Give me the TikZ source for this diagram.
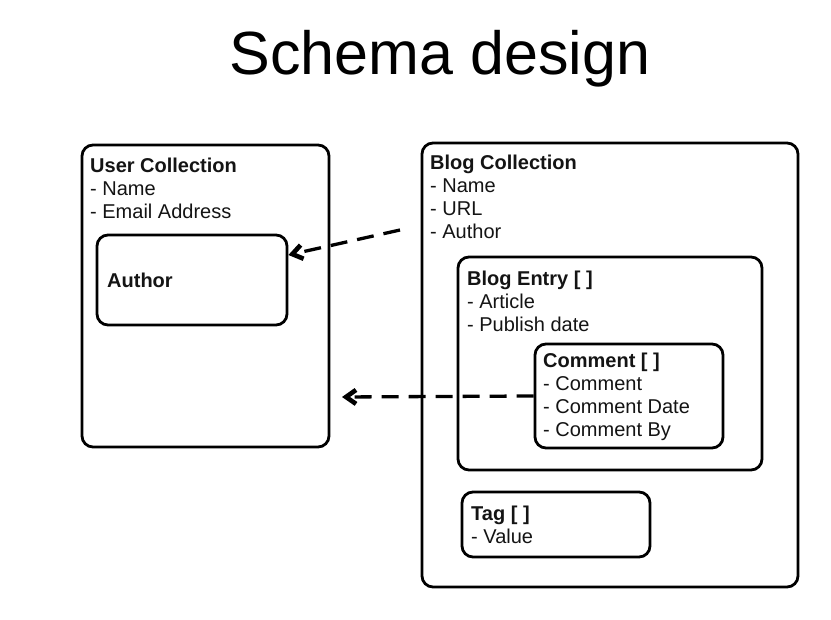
\documentclass[tikz,border=0pt]{standalone}
\usepackage{fontspec}
\setmainfont{Liberation Sans}
\usetikzlibrary{arrows.meta}

\begin{document}
\begin{tikzpicture}[x=1pt,y=-1pt]
\tikzstyle{every node}+=[inner sep=0pt]
\tikzstyle{box}=[draw=black, line width=2.8pt, rounded corners=11pt]
\tikzstyle{txt}=[anchor=north west, align=left, text=black!92, font=\fontsize{20}{23}\selectfont]
\tikzstyle{link}=[black, line width=3.3pt, dash pattern=on 17pt off 10pt, -{Straight Barb[length=10pt,width=14pt,line width=0pt 1.4]}]
\useasboundingbox (0,0) rectangle (831,620);
\fill [white] (0,0) rectangle (831,620);
\node (title) [anchor=base, text=black, font=\fontsize{61}{61}\selectfont] at (440,75) {Schema design};
\node (user) [box, minimum width=247pt, minimum height=302pt] at (205.5,296) {};
\node (author) [box, minimum width=190pt, minimum height=90pt] at (192,280) {};
\node (blog) [box, minimum width=376pt, minimum height=444pt] at (610,365) {};
\node (entry) [box, minimum width=304pt, minimum height=213pt] at (610,363.5) {};
\node (comment) [box, minimum width=188pt, minimum height=104pt] at (629,396) {};
\node (tag) [box, minimum width=188pt, minimum height=65pt] at (556,524.5) {};
\node (usertxt) [txt] at (90,155.9) {\strut\textbf{User Collection}\\- Name\\- Email Address};
\node (authortxt) [txt] at (107,270.9) {\strut\textbf{Author}};
\node (blogtxt) [txt] at (430,152.9) {\strut\textbf{Blog Collection}\\- Name\\- URL\\- Author};
\node (entrytxt) [txt] at (467,268.9) {\strut\textbf{Blog Entry [ ]}\\- Article\\- Publish date};
\node (commenttxt) [txt] at (543,350.9) {\strut\textbf{Comment [ ]}\\- Comment\\- Comment Date\\- Comment By};
\node (tagtxt) [txt] at (471,503.9) {\strut\textbf{Tag [ ]}\\- Value};
\coordinate (authref) at (400,230);
\coordinate (commref) at (342,397);
\draw [link] (authref) -- ([yshift=25pt]author.east);
\draw [link] (comment.west) -- (commref);
\end{tikzpicture}
\end{document}
